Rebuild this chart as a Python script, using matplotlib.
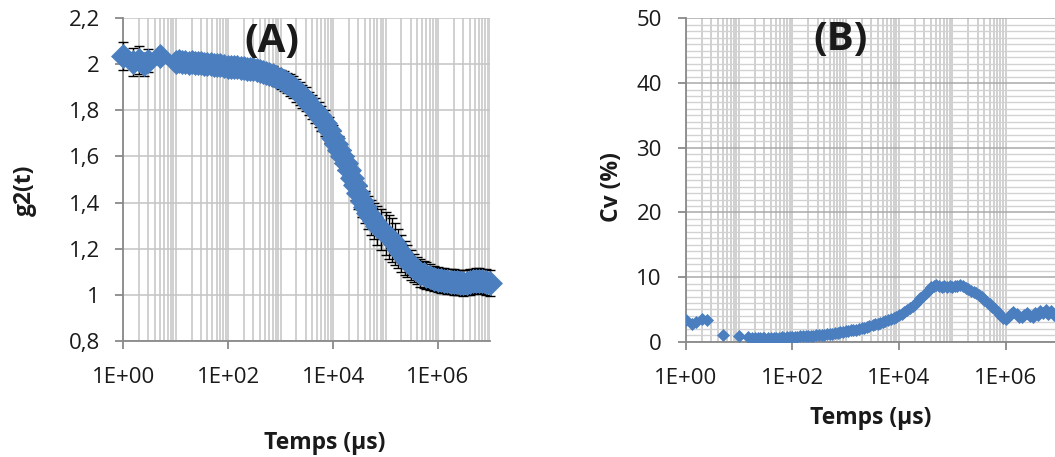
import numpy as np
import matplotlib
matplotlib.use("Agg")
import matplotlib.pyplot as plt
from matplotlib.ticker import FixedLocator, NullFormatter

plt.rcParams['font.family'] = ['Open Sans', 'DejaVu Sans']

# ---- data ----
# (A) g2(t) vs lag time (us)
t_g2 = [1, 1.5, 2, 2.5, 3, 5,
        10, 11.5, 13, 15, 17.5, 20, 23, 26, 30, 35, 40, 46, 53, 60, 70, 82,
        100, 115, 130, 150, 175, 200, 230, 260, 300, 350, 400, 460, 530, 600, 700, 820,
        1e3, 1.15e3, 1.3e3, 1.5e3, 1.75e3, 2e3, 2.3e3, 2.6e3, 3e3, 3.5e3, 4e3, 4.6e3, 5.3e3, 6e3, 7e3, 8.2e3,
        1e4, 1.15e4, 1.3e4, 1.5e4, 1.75e4, 2e4, 2.3e4, 2.6e4, 3e4, 3.5e4, 4e4, 4.6e4, 5.3e4, 6e4, 7e4, 8.2e4,
        1e5, 1.15e5, 1.3e5, 1.5e5, 1.75e5, 2e5, 2.3e5, 2.6e5, 3e5, 3.5e5, 4e5, 4.6e5, 5.3e5, 6e5, 7e5, 8.2e5,
        1e6, 1.15e6, 1.3e6, 1.5e6, 1.75e6, 2e6, 2.3e6, 2.6e6, 3e6, 3.5e6, 4e6, 4.6e6, 5.3e6, 6e6, 7e6, 8.2e6,
        1e7]
g2 = [2.035, 2.01, 2.02, 2.0, 2.015, 2.035,
      2.01, 2.015, 2.01, 2.012, 2.008, 2.01, 2.005, 2.006, 2.004, 2.003, 2.0, 2.001, 1.999, 1.998, 1.996, 1.994,
      1.99, 1.99, 1.988, 1.987, 1.986, 1.985, 1.982, 1.98, 1.978, 1.975, 1.972, 1.968, 1.964, 1.96, 1.953, 1.945,
      1.935, 1.927, 1.92, 1.91, 1.9, 1.888, 1.875, 1.862, 1.848, 1.83, 1.815, 1.8, 1.782, 1.765, 1.745, 1.715,
      1.68, 1.655, 1.63, 1.6, 1.57, 1.54, 1.505, 1.475, 1.44, 1.405, 1.38, 1.355, 1.335, 1.32, 1.3, 1.283,
      1.265, 1.25, 1.237, 1.22, 1.2, 1.18, 1.16, 1.145, 1.13, 1.115, 1.105, 1.095, 1.088, 1.082, 1.075, 1.07,
      1.065, 1.062, 1.06, 1.058, 1.056, 1.055, 1.054, 1.052, 1.05, 1.052, 1.055, 1.058, 1.06, 1.06, 1.058, 1.055,
      1.05]
g2_err = [0.06, 0.06, 0.06, 0.05, 0.05, 0.02,
          0.02, 0.02, 0.02, 0.02, 0.02, 0.02, 0.02, 0.02, 0.02, 0.02, 0.02, 0.02, 0.02, 0.02, 0.02, 0.02,
          0.02, 0.02, 0.02, 0.02, 0.02, 0.02, 0.025, 0.025, 0.03, 0.03, 0.03, 0.035, 0.035, 0.035, 0.04, 0.04,
          0.04, 0.042, 0.044, 0.046, 0.048, 0.05, 0.05, 0.05, 0.052, 0.052, 0.054, 0.054, 0.055, 0.055, 0.055, 0.056,
          0.056, 0.057, 0.058, 0.058, 0.06, 0.06, 0.062, 0.064, 0.066, 0.068, 0.07, 0.072, 0.075, 0.08, 0.085, 0.09,
          0.095, 0.095, 0.095, 0.09, 0.085, 0.08, 0.075, 0.07, 0.065, 0.062, 0.06, 0.06, 0.058, 0.058, 0.056, 0.056,
          0.055, 0.055, 0.055, 0.055, 0.055, 0.055, 0.055, 0.055, 0.055, 0.055, 0.055, 0.055, 0.055, 0.055, 0.055, 0.055,
          0.055]

# (B) Cv (%) vs lag time (us)
t_cv = [1, 1.3, 1.6, 2, 2.5, 5, 10,
        15, 18, 20, 23, 25, 28, 30, 35, 40, 45, 50, 56, 63, 70, 80, 90,
        100, 112, 125, 140, 160, 180, 200, 225, 250, 280, 320, 360, 400, 450, 500, 560, 630, 710, 800, 900,
        1e3, 1.12e3, 1.25e3, 1.4e3, 1.6e3, 1.8e3, 2e3, 2.25e3, 2.5e3, 2.8e3, 3.2e3, 3.6e3,
        4e3, 4.5e3, 5e3, 5.6e3, 6.3e3, 7.1e3, 8e3, 9e3,
        1e4, 1.12e4, 1.25e4, 1.4e4, 1.6e4, 1.8e4, 2e4, 2.25e4, 2.5e4, 2.8e4, 3.2e4, 3.6e4,
        4e4, 4.5e4, 5e4, 5.6e4, 6.3e4, 7.1e4, 8e4, 9e4,
        1e5, 1.12e5, 1.25e5, 1.4e5, 1.6e5, 1.8e5, 2e5, 2.25e5, 2.5e5, 2.8e5, 3.2e5, 3.6e5,
        4e5, 4.5e5, 5e5, 5.6e5, 6.3e5, 7.1e5, 8e5, 9e5,
        1e6, 1.12e6, 1.25e6, 1.4e6, 1.6e6, 1.8e6, 2e6, 2.25e6, 2.5e6, 2.8e6, 3.2e6, 3.6e6,
        4e6, 4.5e6, 5e6, 5.6e6, 6.3e6, 7.1e6, 8e6, 9e6, 1e7]
cv = [3.3, 2.8, 3.0, 3.6, 3.3, 1.0, 0.9,
      0.7, 0.65, 0.6, 0.6, 0.55, 0.6, 0.6, 0.55, 0.6, 0.6, 0.65, 0.6, 0.7, 0.65, 0.7, 0.75,
      0.8, 0.75, 0.8, 0.85, 0.85, 0.9, 0.9, 0.95, 0.95, 1.0, 1.05, 1.05, 1.1, 1.15, 1.2, 1.25, 1.3, 1.35, 1.45, 1.5,
      1.6, 1.65, 1.75, 1.8, 1.9, 2.0, 2.1, 2.2, 2.3, 2.45, 2.55, 2.7,
      2.8, 2.95, 3.1, 3.25, 3.4, 3.55, 3.7, 3.9,
      4.1, 4.3, 4.55, 4.85, 5.2, 5.55, 5.9, 6.3, 6.7, 7.1, 7.6, 8.0,
      8.4, 8.6, 8.8, 8.7, 8.5, 8.6, 8.5, 8.6,
      8.5, 8.6, 8.7, 8.8, 8.6, 8.3, 8.1, 7.9, 7.7, 7.5, 7.2, 6.9,
      6.5, 6.2, 5.8, 5.4, 5.0, 4.6, 4.2, 3.7,
      3.5, 3.8, 4.3, 4.6, 4.3, 3.9, 3.8, 4.2, 4.5, 4.0, 3.9, 4.5,
      4.2, 4.7, 4.4, 4.9, 4.3, 4.8, 4.1, 4.5, 4.3]

x_ticks = [1, 1e2, 1e4, 1e6]
x_ticklabels = ['1E+00', '1E+02', '1E+04', '1E+06']
g2_ticks = [0.8, 1.0, 1.2, 1.4, 1.6, 1.8, 2.0, 2.2]
g2_ticklabels = ['0,8', '1', '1,2', '1,4', '1,6', '1,8', '2', '2,2']
cv_ticks = [0, 10, 20, 30, 40, 50]

blue = '#4a7ebf'
axis_gray = '#898989'
grid_gray = '#c4c4c4'
text_col = '#1a1a1a'

fig = plt.figure(figsize=(10.55, 4.57), dpi=100)
W, H = 1055.0, 457.0


def style_axes(ax, xmax_minor_decade):
    ax.set_xscale('log')
    ax.set_xlim(1, 1e7)
    ax.set_xticks(x_ticks)
    ax.set_xticklabels(x_ticklabels)
    minor = [m * 10 ** k for k in range(xmax_minor_decade) for m in range(2, 10)]
    minor += [10 ** k for k in range(1, 8, 2)]
    ax.xaxis.set_minor_locator(FixedLocator(minor))
    ax.xaxis.set_minor_formatter(NullFormatter())
    ax.grid(True, which='both', axis='x', color=grid_gray, lw=1.1)
    for s in ['top', 'right']:
        ax.spines[s].set_visible(False)
    for s in ['left', 'bottom']:
        ax.spines[s].set_color(axis_gray)
        ax.spines[s].set_linewidth(1.3)
    ax.tick_params(which='major', length=6, width=1.3, color=axis_gray,
                   labelsize=16, labelcolor=text_col)
    ax.tick_params(axis='x', which='major', pad=13)
    ax.tick_params(axis='y', which='major', pad=11)
    ax.tick_params(which='minor', length=0)
    ax.set_axisbelow(True)


# ---- panel A ----
axA = fig.add_axes([123.3 / W, (H - 340.7) / H, (490.5 - 123.3) / W, (340.7 - 18.3) / H])
style_axes(axA, 7)
axA.set_ylim(0.8, 2.2)
axA.set_yticks(g2_ticks)
axA.set_yticklabels(g2_ticklabels)
axA.grid(True, which='major', axis='y', color=grid_gray, lw=1.1)
axA.errorbar(t_g2, g2, yerr=g2_err, fmt='none', ecolor='black', elinewidth=1.0,
             capsize=3.5, capthick=1.0, zorder=3, clip_on=False)
axA.plot(t_g2, g2, ls='none', marker='D', ms=12.5, color=blue, mec=blue, mew=0.5,
         zorder=4, clip_on=False)
fig.text(25 / W, (H - 190) / H, 'g2(t)', rotation=90, ha='center', va='center',
         fontsize=16.5, fontweight='bold', color=text_col)
fig.text(325 / W, (H - 443) / H, 'Temps (µs)', ha='center', va='center',
         fontsize=16.5, fontweight='bold', color=text_col)
fig.text(272 / W, (H - 42) / H, '(A)', ha='center', va='center',
         fontsize=29, fontweight='bold', color=text_col)

# ---- panel B ----
axB = fig.add_axes([685.5 / W, (H - 341.8) / H, (1059 - 685.5) / W, (341.8 - 18.4) / H])
style_axes(axB, 6)
axB.set_ylim(0, 50)
axB.set_yticks(cv_ticks)
axB.yaxis.set_minor_locator(FixedLocator([v for v in range(0, 51) if v % 10]))
axB.grid(True, which='major', axis='y', color='#a9a9a9', lw=1.1)
axB.grid(True, which='minor', axis='y', color='#d2d2d2', lw=1.0)
axB.plot(t_cv, cv, ls='none', marker='D', ms=6, color=blue, mec=blue, mew=0.5, zorder=4)
fig.text(612 / W, (H - 187) / H, 'Cv (%)', rotation=90, ha='center', va='center',
         fontsize=16.5, fontweight='bold', color=text_col)
fig.text(871 / W, (H - 418) / H, 'Temps (µs)', ha='center', va='center',
         fontsize=16.5, fontweight='bold', color=text_col)
fig.text(841 / W, (H - 40) / H, '(B)', ha='center', va='center',
         fontsize=29, fontweight='bold', color=text_col)

fig.savefig('out.png', dpi=100, facecolor='white')
